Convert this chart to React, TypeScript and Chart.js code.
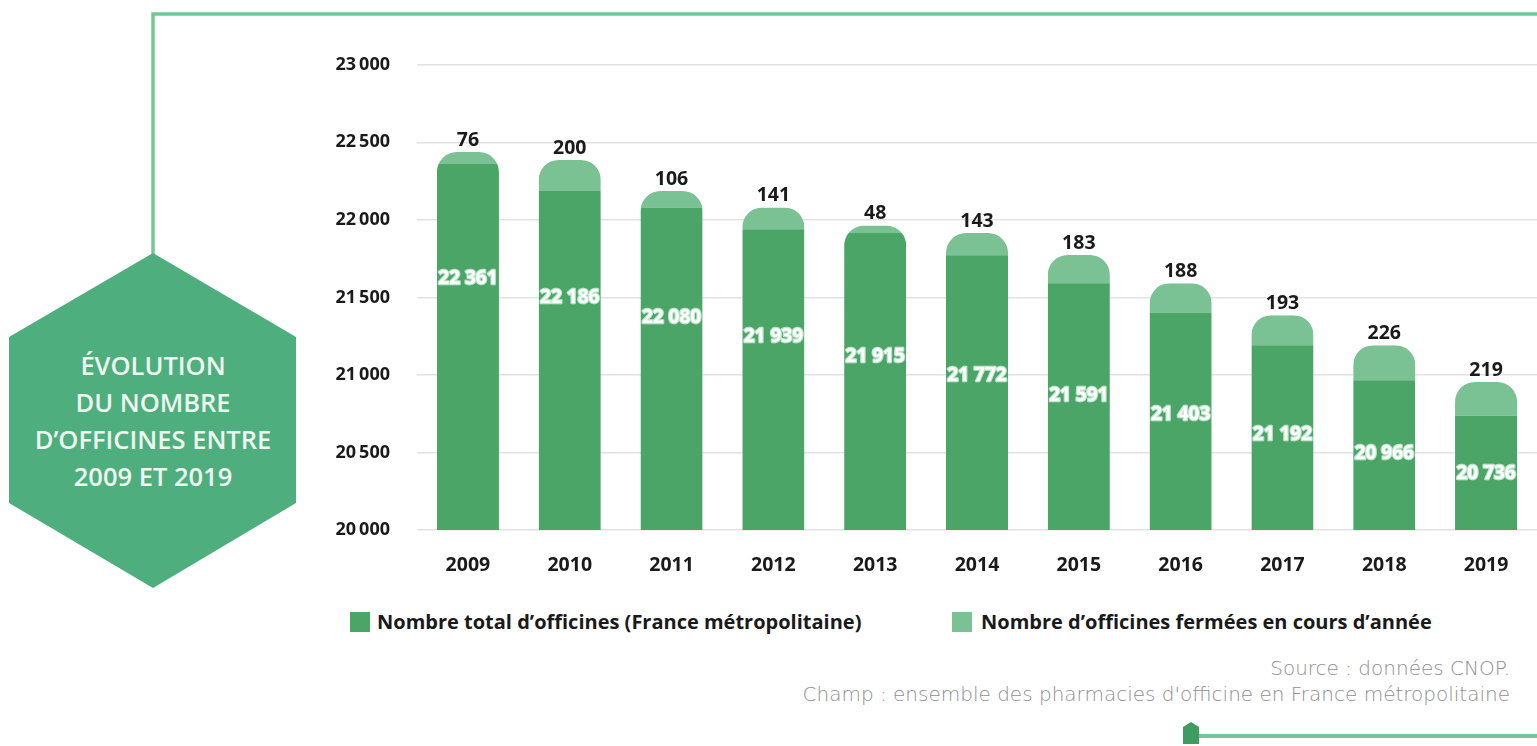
import React, { useEffect, useRef } from "react";
import { Chart, registerables } from "chart.js";

Chart.register(...registerables);

const years = ["2009", "2010", "2011", "2012", "2013", "2014", "2015", "2016", "2017", "2018", "2019"];
const totalOfficines = [22361, 22186, 22080, 21939, 21915, 21772, 21591, 21403, 21192, 20966, 20736];
const closedOfficines = [76, 200, 106, 141, 48, 143, 183, 188, 193, 226, 219];
const yTicks = [20000, 20500, 21000, 21500, 22000, 22500, 23000];

const DARK = "#4aa567";
const LIGHT = "#7ac193";
const HEX = "#4fae7d";
const LINE = "#74c69a";

const fmt = (v: number, sep = "\u2009") => {
  const s = String(Math.round(v));
  return s.replace(/\B(?=(\d{3})+(?!\d))/g, sep);
};

const clipPlugin = {
  id: "roundClip",
  beforeDatasetsDraw(chart: any) {
    const ctx = chart.ctx;
    const meta0 = chart.getDatasetMeta(0);
    const meta1 = chart.getDatasetMeta(1);
    ctx.save();
    ctx.beginPath();
    meta0.data.forEach((bar: any, i: number) => {
      const top = meta1.data[i].y;
      const w = bar.width;
      const left = bar.x - w / 2;
      const bottom = bar.base;
      const r = 20;
      ctx.moveTo(left, bottom);
      ctx.lineTo(left, top + r);
      ctx.arcTo(left, top, left + r, top, r);
      ctx.lineTo(left + w - r, top);
      ctx.arcTo(left + w, top, left + w, top + r, r);
      ctx.lineTo(left + w, bottom);
      ctx.closePath();
    });
    ctx.clip();
  },
  afterDatasetsDraw(chart: any) {
    const ctx = chart.ctx;
    ctx.restore();
    const meta0 = chart.getDatasetMeta(0);
    const meta1 = chart.getDatasetMeta(1);
    const area = chart.chartArea;
    const h = area.bottom - area.top;
    ctx.save();
    ctx.textAlign = "center";
    // top labels
    ctx.font = "bold 19.5px 'Open Sans'";
    ctx.fillStyle = "#1a1a1a";
    ctx.textBaseline = "bottom";
    meta1.data.forEach((bar: any, i: number) => {
      ctx.fillText(String(closedOfficines[i]), bar.x, bar.y - 2);
    });
    // inner labels
    ctx.font = "bold 19px 'Open Sans'";
    ctx.textBaseline = "middle";
    ctx.lineJoin = "round";
    meta0.data.forEach((bar: any, i: number) => {
      const y = area.top + (0.459 + 0.0419 * i) * h;
      const t = fmt(totalOfficines[i], " ");
      ctx.strokeStyle = "#bfe6cd";
      ctx.lineWidth = 2.5;
      ctx.strokeText(t, bar.x, y);
      ctx.fillStyle = "#ffffff";
      ctx.fillText(t, bar.x, y);
    });
    ctx.restore();
  },
};

function BarChart() {
  const ref = useRef<HTMLCanvasElement>(null);
  useEffect(() => {
    if (!ref.current) return;
    const chart = new Chart(ref.current, {
      type: "bar",
      data: {
        labels: years,
        datasets: [
          {
            label: "Nombre total d’officines (France métropolitaine)",
            data: totalOfficines,
            backgroundColor: DARK,
            barPercentage: 0.61,
            categoryPercentage: 1,
          },
          {
            label: "Nombre d’officines fermées en cours d’année",
            data: closedOfficines,
            backgroundColor: LIGHT,
            barPercentage: 0.61,
            categoryPercentage: 1,
          },
        ],
      },
      options: {
        animation: false,
        responsive: false,
        devicePixelRatio: 1,
        layout: { padding: { top: 10, right: 0, left: 0, bottom: 0 } },
        plugins: { legend: { display: false }, tooltip: { enabled: false } },
        scales: {
          x: {
            stacked: true,
            grid: { display: false },
            border: { display: false },
            ticks: {
              color: "#1a1a1a",
              font: { family: "'Open Sans'", weight: "bold", size: 19.5 },
              padding: 16,
            },
            afterFit: (s: any) => {
              s.height = 50;
            },
          },
          y: {
            stacked: true,
            min: yTicks[0],
            max: yTicks[yTicks.length - 1],
            afterBuildTicks: (s: any) => {
              s.ticks = yTicks.map((v) => ({ value: v }));
            },
            grid: { color: "#e2e2e2", lineWidth: 1.5, drawTicks: false },
            border: { display: false },
            ticks: {
              color: "#1a1a1a",
              font: { family: "'Open Sans'", weight: "bold", size: 18 },
              padding: 27,
              callback: (v: any) => fmt(Number(v)),
            },
            afterFit: (s: any) => {
              s.width = 117;
            },
          },
        },
      },
      plugins: [clipPlugin],
    });
    return () => chart.destroy();
  }, []);
  return (
    <canvas
      ref={ref}
      width={1237}
      height={553}
      style={{ position: "absolute", left: 300, top: 27, width: 1237, height: 553 }}
    />
  );
}

export default function App() {
  const hexPts = "153,253 296,337 296,503 153,588 9,503 9,337";
  return (
    <div
      style={{
        position: "absolute",
        left: 0,
        top: 0,
        width: 1537,
        height: 746,
        overflow: "hidden",
        background: "#ffffff",
        fontFamily: "'Open Sans', sans-serif",
      }}
    >
      <svg width={1537} height={746} style={{ position: "absolute", left: 0, top: 0 }}>
        <polyline points="153,256 153,14 1537,14" fill="none" stroke={LINE} strokeWidth={3.5} />
        <polygon points={hexPts} fill={HEX} />
        <line x1={1195} y1={736} x2={1537} y2={736} stroke={LINE} strokeWidth={4} />
        <polygon points="1191,722 1199,727 1199,744 1183,744 1183,727" fill="#3e9c5e" />
      </svg>
      <div
        style={{
          position: "absolute",
          left: 9,
          width: 288,
          top: 347,
          textAlign: "center",
          color: "#eef8f1",
          fontSize: 25.5,
          fontWeight: 600,
          lineHeight: "37px",
          whiteSpace: "nowrap",
        }}
      >
        ÉVOLUTION
        <br />
        DU NOMBRE
        <br />
        D’OFFICINES ENTRE
        <br />
        2009 ET 2019
      </div>
      <BarChart />
      <div style={{ position: "absolute", left: 350, top: 612, width: 20, height: 20, background: DARK }} />
      <div
        style={{
          position: "absolute",
          left: 377,
          top: 607,
          fontSize: 20,
          fontWeight: 700,
          color: "#1a1a1a",
          whiteSpace: "nowrap",
          lineHeight: "30px",
        }}
      >
        Nombre total d’officines (France métropolitaine)
      </div>
      <div style={{ position: "absolute", left: 952, top: 612, width: 20, height: 20, background: LIGHT }} />
      <div
        style={{
          position: "absolute",
          left: 981,
          top: 607,
          fontSize: 20,
          fontWeight: 700,
          color: "#1a1a1a",
          whiteSpace: "nowrap",
          lineHeight: "30px",
        }}
      >
        Nombre d’officines fermées en cours d’année
      </div>
      <div
        style={{
          position: "absolute",
          right: 27,
          top: 655,
          textAlign: "right",
          color: "#8f8f8f",
          fontFamily: "'DejaVu Sans', sans-serif",
          fontWeight: 300,
          fontSize: 20,
          lineHeight: "26px",
          whiteSpace: "nowrap",
        }}
      >
        Source : données CNOP.
        <br />
        Champ : ensemble des pharmacies d'officine en France métropolitaine
      </div>
    </div>
  );
}
